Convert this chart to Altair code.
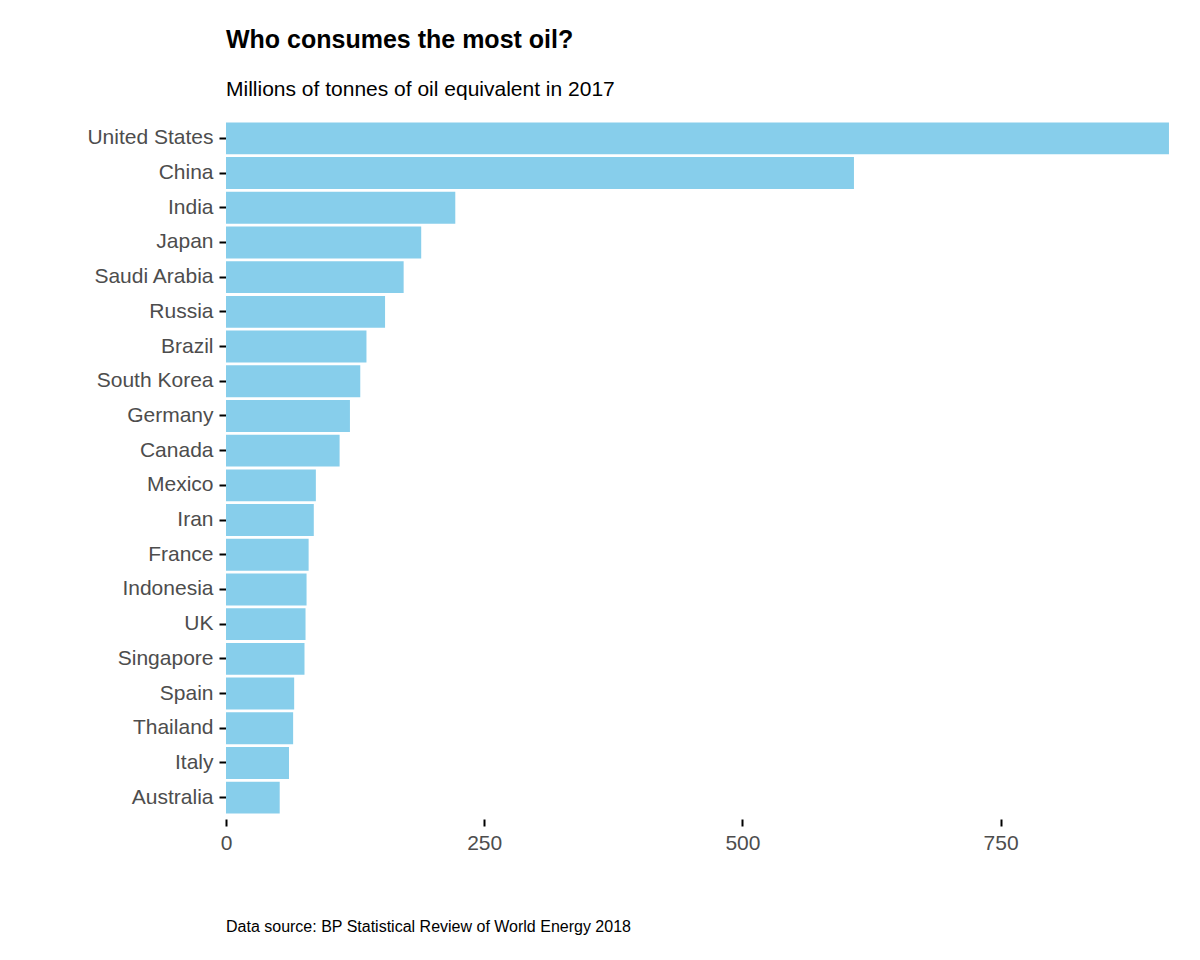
import altair as alt
import pandas as pd

countries = ["United States","China","India","Japan","Saudi Arabia","Russia","Brazil",
             "South Korea","Germany","Canada","Mexico","Iran","France","Indonesia","UK",
             "Singapore","Spain","Thailand","Italy","Australia"]
values = [913,608,222,189,172,154,136,130,120,110,87,85,80,78,77,76,66,65,61,52]

df = pd.DataFrame({"country": countries, "value": values})
H = 694
W = 944

bars = alt.Chart(df).mark_bar(color="#87ceeb").encode(
    x=alt.X("value:Q", scale=alt.Scale(domain=[0, 914], nice=False, zero=True),
            axis=alt.Axis(title=None, values=[0, 250, 500, 750], grid=False, domain=False,
                          tickColor="black", tickWidth=2, tickSize=7, offset=4,
                          labelFontSize=21, labelColor="#4d4d4d", labelPadding=6,
                          labelFlush=False, labelFont="Liberation Sans")),
    y=alt.Y("country:N", sort=countries, scale=alt.Scale(paddingInner=0.08, paddingOuter=0.04),
            axis=alt.Axis(title=None, grid=False, domain=False, tickColor="black",
                          tickWidth=2, tickSize=7, labelFontSize=21, labelColor="#4d4d4d",
                          labelPadding=6, labelFont="Liberation Sans")),
)

caption = alt.Chart(pd.DataFrame({"t": ["Data source: BP Statistical Review of World Energy 2018"]})).mark_text(
    align="left", baseline="middle", fontSize=16, font="Liberation Sans", color="black"
).encode(x=alt.value(0), y=alt.value(H + 112), text="t:N")

chart = alt.layer(bars, caption).properties(
    width=W, height=H,
    padding={"left": 78, "top": 20, "right": 20, "bottom": 10},
    title=alt.TitleParams("Who consumes the most oil?",
                          subtitle="Millions of tonnes of oil equivalent in 2017",
                          anchor="start", frame="group", font="Liberation Sans",
                          fontSize=25, fontWeight="bold", color="black",
                          subtitleFont="Liberation Sans", subtitleFontSize=21,
                          subtitleColor="black", subtitlePadding=26, offset=21),
).configure_view(stroke=None)

chart.save("out.html", embed_options={"renderer": "svg", "actions": False})
